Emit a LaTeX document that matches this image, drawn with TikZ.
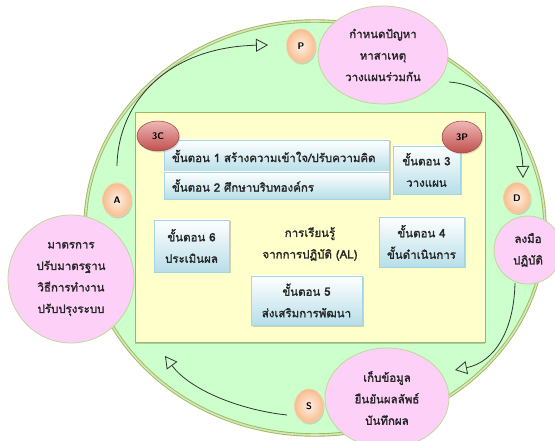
\documentclass[tikz,border=0pt]{standalone}
\usepackage{fontspec}
\newfontfamily\thai[Script=Thai, AutoFakeBold=1.6]{Loma}
\usetikzlibrary{arrows.meta,shapes.geometric,shadows}
\definecolor{ringfill}{HTML}{CCFFCC}
\definecolor{ringline}{HTML}{9BBB59}
\definecolor{ringline2}{HTML}{D7E4BD}
\definecolor{panelfill}{HTML}{FFFFCC}
\definecolor{pinkfill}{HTML}{FDD0F7}
\definecolor{pinkline}{HTML}{C3D69B}
\definecolor{boxline}{HTML}{A5D5E2}
\definecolor{boxbot}{HTML}{B7DEE8}
\definecolor{peachin}{HTML}{FEF0E6}
\definecolor{peachout}{HTML}{F8BD8E}
\definecolor{badgetop}{HTML}{EEB8B7}
\definecolor{badgebot}{HTML}{C0504D}
\definecolor{arrowcol}{HTML}{333333}
\tikzset{
  txt/.style={font=\thai\bfseries\fontsize{11.5}{21.5}\selectfont, text=black!85},
  pinkbub/.style={ellipse, draw=pinkline, line width=0.8pt, fill=pinkfill, inner sep=0pt, align=center, txt},
  stepbox/.style={rectangle, draw=boxline, line width=0.6pt, top color=white, bottom color=boxbot,
     drop shadow={shadow xshift=1.5pt, shadow yshift=-1.5pt, opacity=0.35}, inner sep=0pt, align=center, txt},
  letter/.style={ellipse, draw=peachout!70!white, line width=0.5pt, shading=radial, inner color=peachin, outer color=peachout,
     drop shadow={shadow xshift=1pt, shadow yshift=-1.5pt, opacity=0.3}, inner sep=0pt,
     font=\sffamily\bfseries\fontsize{9.5}{10}\selectfont, minimum width=29pt, minimum height=34pt},
  badge/.style={ellipse, draw=badgebot!80!black, line width=0.5pt, top color=badgetop, bottom color=badgebot,
     drop shadow={shadow xshift=1pt, shadow yshift=-1.5pt, opacity=0.3}, inner sep=0pt,
     font=\sffamily\bfseries\fontsize{9.5}{10}\selectfont},
  cyc/.style={draw=arrowcol, line width=0.8pt, -{Triangle[open, length=12pt, width=13pt, line width=0.8pt]}},
}
\begin{document}
\begin{tikzpicture}[x=1pt,y=-1pt]
\useasboundingbox (0,0) rectangle (555,441);
\clip (0,0) rectangle (555,441);
\fill[white] (0,0) rectangle (555,441);
% ring
\node[ellipse, draw=ringline, double=ringline2, double distance=1.6pt, line width=0.9pt, fill=ringfill,
      minimum width=460pt, minimum height=414pt] (ring) at (315,228) {};
% arrow end points
\coordinate (a1s) at (117,166); \coordinate (a1e) at (268,45);
\coordinate (a2s) at (449,82);  \coordinate (a2e) at (523,178);
\coordinate (a3s) at (515,283); \coordinate (a3e) at (455,370);
\coordinate (a4s) at (287,415); \coordinate (a4e) at (165,356);
\draw[cyc] (a1s) .. controls (118,100) and (170,47) .. (a1e);
\draw[cyc] (a2s) .. controls (495,85) and (522,130) .. (a2e);
\draw[cyc] (a3s) .. controls (514,330) and (495,362) .. (a3e);
\draw[cyc] (a4s) .. controls (240,410) and (190,390) .. (a4e);
% panel
\node[rectangle, draw=ringline, line width=1pt, fill=panelfill,
      drop shadow={shadow xshift=0pt, shadow yshift=-1.5pt, opacity=0.4},
      minimum width=350pt, minimum height=229pt] (panel) at (310,227.5) {};
% pink bubbles
\node[pinkbub, minimum width=130pt, minimum height=98pt] (ptop) at (383,55) {กำหนดปัญหา\\หาสาเหตุ\\วางแผนร่วมกัน};
\node[pinkbub, minimum width=126pt, minimum height=128pt] (pleft) at (71,279) {มาตรการ\\ปรับมาตรฐาน\\วิธีการทำงาน\\ปรับปรุงระบบ};
\node[pinkbub, minimum width=68pt, minimum height=68pt] (pright) at (528,250) {ลงมือ\\ปฏิบัติ};
\node[pinkbub, minimum width=124pt, minimum height=100pt] (pbot) at (387,398) {เก็บข้อมูล\\ยืนยันผลลัพธ์\\บันทึกผล};
% letters
\node[letter] (P) at (301,46) {P};
\node[letter] (A) at (117,200) {A};
\node[letter, minimum width=27pt, minimum height=31pt] (D) at (517,198) {D};
\node[letter] (S) at (309,406) {S};
% steps
\node[stepbox, text width=209pt, inner xsep=8pt, align=left, minimum height=32pt] (s1) at (276.5,156) {ขั้นตอน 1 สร้างความเข้าใจ/ปรับความคิด};
\node[stepbox, text width=209pt, inner xsep=8pt, align=left, minimum height=27pt] (s2) at (276.5,185.5) {ขั้นตอน 2 ศึกษาบริบทองค์กร};
\node[stepbox, minimum width=67pt, minimum height=48pt] (s3) at (426.5,170) {ขั้นตอน 3\\วางแผน};
\node[stepbox, minimum width=85pt, minimum height=50pt] (s4) at (421.5,242) {ขั้นตอน 4\\ขั้นดำเนินการ};
\node[stepbox, minimum width=111pt, minimum height=49pt] (s5) at (306.5,300.5) {ขั้นตอน 5\\ส่งเสริมการพัฒนา};
\node[stepbox, minimum width=75pt, minimum height=52pt] (s6) at (191.5,246) {ขั้นตอน 6\\ประเมินผล};
\node[txt, align=center] (al) at (310,244) {การเรียนรู้\\จากการปฏิบัติ (AL)};
% badges
\node[badge, minimum width=42pt, minimum height=30pt] (b3c) at (158,136) {3C};
\node[badge, minimum width=40pt, minimum height=32pt] (b3p) at (462,137) {3P};
\end{tikzpicture}
\end{document}
